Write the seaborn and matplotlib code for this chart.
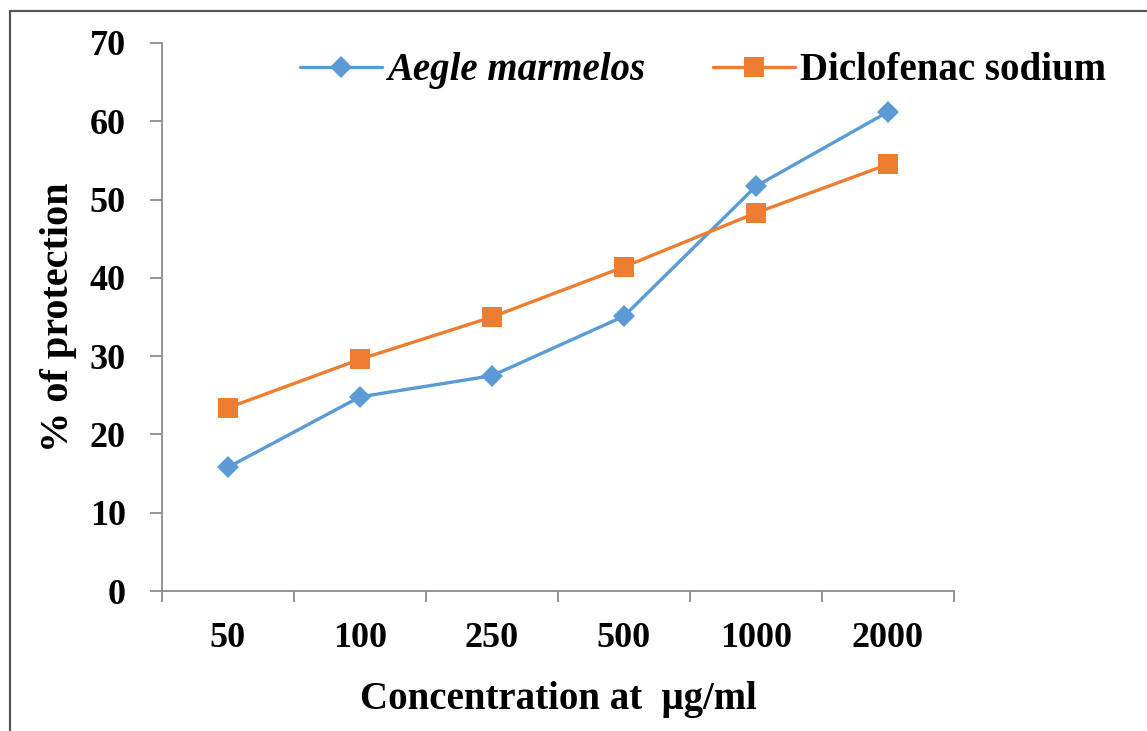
import matplotlib
matplotlib.use("Agg")
import matplotlib.pyplot as plt
import seaborn as sns
import pandas as pd
from matplotlib.lines import Line2D

categories = ["50", "100", "250", "500", "1000", "2000"]
aegle = [15.8, 24.8, 27.5, 35.1, 51.7, 61.2]
diclofenac = [23.4, 29.6, 35.0, 41.4, 48.3, 54.5]
series_names = ["Aegle marmelos", "Diclofenac sodium"]
yticks = [0, 10, 20, 30, 40, 50, 60, 70]

sns.set_theme(style="white")
plt.rcParams["font.family"] = ["Liberation Serif", "DejaVu Serif"]
plt.rcParams["font.weight"] = "bold"

fig = plt.figure(figsize=(11.47, 7.31), dpi=100)
ax = fig.add_axes([0.1412, 0.1915, 0.6905, 0.7497])

df = pd.DataFrame({
    "conc": categories * 2,
    "val": aegle + diclofenac,
    "series": [series_names[0]] * len(categories) + [series_names[1]] * len(categories),
})
palette = {series_names[0]: "#5B9BD5", series_names[1]: "#ED7D31"}
markers = {series_names[0]: "D", series_names[1]: "s"}
sizes_ms = {series_names[0]: 11, series_names[1]: 15}

for name in series_names:
    sub = df[df["series"] == name]
    sns.lineplot(data=sub, x="conc", y="val", ax=ax, color=palette[name],
                 marker=markers[name], markersize=sizes_ms[name],
                 markeredgewidth=0, linewidth=2.4, sort=False, legend=False)

GRAY = "#8c8c8c"
ax.set_xlim(-0.5, len(categories) - 0.5)
ax.set_ylim(0, 70)
ax.set_yticks(yticks)
ax.set_yticklabels([str(t) for t in yticks], fontsize=26, fontweight="bold")
ax.set_xticks(range(len(categories)))
ax.set_xticklabels(categories, fontsize=26, fontweight="bold")
ax.tick_params(axis="x", which="major", bottom=True, length=0, pad=22)
ax.set_xticks([i - 0.5 for i in range(len(categories) + 1)], minor=True)
ax.tick_params(axis="x", which="minor", bottom=True, length=8, width=1.3, color=GRAY, direction="out")
ax.tick_params(axis="y", which="major", left=True, length=9, width=1.3, color=GRAY,
               direction="out", pad=17, labelcolor="black")
ax.tick_params(axis="x", labelcolor="black")

for s in ["top", "right"]:
    ax.spines[s].set_visible(False)
for s in ["left", "bottom"]:
    ax.spines[s].set_color(GRAY)
    ax.spines[s].set_linewidth(1.3)

ax.set_xlabel("Concentration at  \u03bcg/ml", fontsize=28, fontweight="bold", labelpad=19, color="black")
ax.set_ylabel("% of protection", fontsize=29, fontweight="bold", labelpad=9, color="black")

handles = [Line2D([], [], color=palette[n], marker=markers[n], markersize=sizes_ms[n],
                  markeredgewidth=0, linewidth=2.4) for n in series_names]
leg = fig.legend(handles, series_names, loc="center left", bbox_to_anchor=(0.231, 0.903),
                 ncol=2, frameon=False, fontsize=28, handlelength=2.1, handletextpad=0.13,
                 columnspacing=1.75)
for t in leg.get_texts():
    t.set_fontweight("bold")
    t.set_color("black")
leg.get_texts()[0].set_fontstyle("italic")

# figure border (top and left only visible)
fig.add_artist(Line2D([0.009, 1.0], [0.985, 0.985], transform=fig.transFigure, color="#555555", linewidth=1.6))
fig.add_artist(Line2D([0.009, 0.009], [0.0, 0.985], transform=fig.transFigure, color="#555555", linewidth=1.6))

fig.savefig("out.png", dpi=100)
